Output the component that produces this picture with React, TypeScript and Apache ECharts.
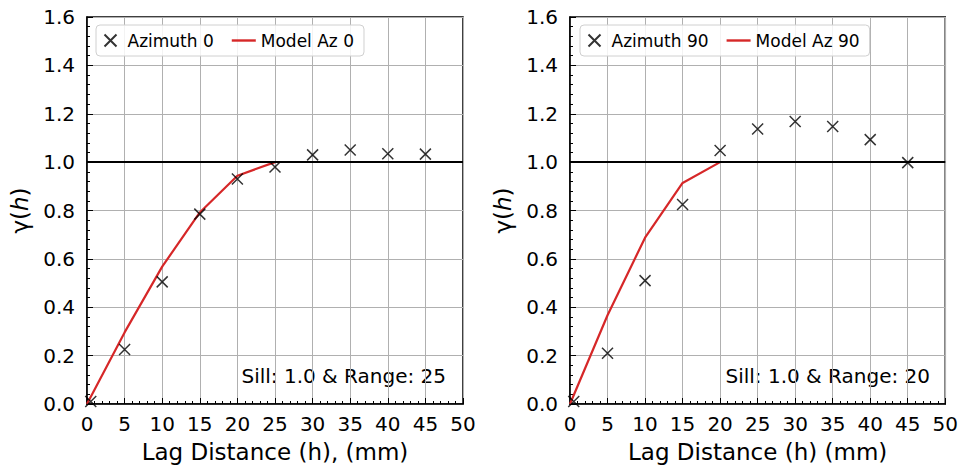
import React, { useEffect, useRef } from "react";
import * as echarts from "echarts";

const lagPointsAz0 = [0.5, 5, 10, 15, 20, 25, 30, 35, 40, 45];
const gammaAz0 = [0.01, 0.225, 0.505, 0.785, 0.93, 0.98, 1.03, 1.05, 1.035, 1.033];
const modelLagAz0 = [0, 5, 10, 15, 20, 25];
const modelGammaAz0 = [0, 0.296, 0.568, 0.792, 0.944, 1.0];

const lagPointsAz90 = [0.5, 5, 10, 15, 20, 25, 30, 35, 40, 45];
const gammaAz90 = [0.01, 0.21, 0.51, 0.825, 1.048, 1.137, 1.168, 1.147, 1.093, 0.998];
const modelLagAz90 = [0, 5, 10, 15, 20];
const modelGammaAz90 = [0, 0.367, 0.6875, 0.914, 1.0];

const xTicks = { min: 0, max: 50, interval: 5 };
const yTicks = { min: 0, max: 1.6, interval: 0.2 };
const sillLevel = 1.0;

const FONT = "DejaVu Sans";
const RED = "#d62728";
const XMARK = "path://M0,0L10,10M10,0L0,10";
const LINE_ICON = "path://M0,0H24V2.4H0Z";

const zip = (a: number[], b: number[]) => a.map((v, i) => [v, b[i]]);

function makeX(gridIndex: number, name: string) {
  return {
    type: "value",
    gridIndex,
    min: xTicks.min,
    max: xTicks.max,
    interval: xTicks.interval,
    name,
    nameLocation: "middle",
    nameGap: 36,
    nameTextStyle: { fontFamily: FONT, fontSize: 23, color: "#000" },
    axisLine: { show: true, lineStyle: { color: "#000", width: 1.5 } },
    axisTick: { show: true, inside: true, length: 6, lineStyle: { color: "#000", width: 1 } },
    minorTick: { show: true, splitNumber: 5, length: 3, lineStyle: { color: "#000", width: 1 } },
    axisLabel: { fontFamily: FONT, fontSize: 20, color: "#000", margin: 10 },
    splitLine: { show: true, lineStyle: { color: "#b0b0b0", width: 1 } },
  };
}

function makeY(gridIndex: number) {
  return {
    type: "value",
    gridIndex,
    min: yTicks.min,
    max: yTicks.max,
    interval: yTicks.interval,
    name: "γ({i|h})",
    nameLocation: "middle",
    nameGap: 56,
    nameTextStyle: {
      fontFamily: FONT,
      fontSize: 23,
      color: "#000",
      rich: { i: { fontFamily: FONT, fontSize: 23, fontStyle: "italic", color: "#000" } },
    },
    axisLine: { show: true, lineStyle: { color: "#000", width: 1.5 } },
    axisTick: { show: true, inside: true, length: 6, lineStyle: { color: "#000", width: 1 } },
    minorTick: { show: true, splitNumber: 5, length: 3, lineStyle: { color: "#000", width: 1 } },
    axisLabel: {
      fontFamily: FONT,
      fontSize: 20,
      color: "#000",
      margin: 12,
      formatter: (v: number) => v.toFixed(1),
    },
    splitLine: { show: true, lineStyle: { color: "#b0b0b0", width: 1 } },
  };
}

function scatterSeries(name: string, idx: number, xs: number[], ys: number[]) {
  return {
    type: "scatter",
    name,
    xAxisIndex: idx,
    yAxisIndex: idx,
    data: zip(xs, ys),
    symbol: XMARK,
    symbolSize: 11,
    itemStyle: { color: "none", borderColor: "#000", borderWidth: 1.5 },
    z: 5,
  };
}

function lineSeries(name: string, idx: number, xs: number[], ys: number[]) {
  return {
    type: "line",
    name,
    xAxisIndex: idx,
    yAxisIndex: idx,
    data: zip(xs, ys),
    symbol: "none",
    showSymbol: false,
    symbolKeepAspect: true,
    lineStyle: { color: RED, width: 2.2 },
    itemStyle: { color: RED },
    z: 4,
    markLine: {
      silent: true,
      symbol: "none",
      label: { show: false },
      lineStyle: { color: "#000", width: 2, type: "solid" },
      data: [{ yAxis: sillLevel }],
    },
  };
}

function makeLegend(left: number, names: string[]) {
  return {
    left,
    top: 25,
    orient: "horizontal",
    padding: [7, 10, 7, 6],
    itemGap: 18,
    itemWidth: 24,
    itemHeight: 12,
    borderColor: "#d0d0d0",
    borderWidth: 1,
    borderRadius: 4,
    backgroundColor: "rgba(255,255,255,0.85)",
    textStyle: { fontFamily: FONT, fontSize: 17, color: "#000" },
    data: [
      { name: names[0] },
      { name: names[1], icon: LINE_ICON, itemStyle: { color: RED, borderWidth: 0 } },
    ],
  };
}

export default function App() {
  const ref = useRef<HTMLDivElement>(null);
  useEffect(() => {
    if (!ref.current) return;
    const chart = echarts.init(ref.current, undefined, { renderer: "svg" });
    chart.setOption({
      animation: false,
      backgroundColor: "#fff",
      textStyle: { fontFamily: FONT },
      grid: [
        { left: 87, right: 498, top: 17, bottom: 66, show: true, borderColor: "#000", borderWidth: 1.5, backgroundColor: "transparent" },
        { left: 570, right: 14, top: 17, bottom: 66, show: true, borderColor: "#000", borderWidth: 1.5, backgroundColor: "transparent" },
      ],
      xAxis: [makeX(0, "Lag Distance (h), (mm)"), makeX(1, "Lag Distance (h) (mm)")],
      yAxis: [makeY(0), makeY(1)],
      legend: [
        makeLegend(96, ["Azimuth 0", "Model Az 0"]),
        makeLegend(580, ["Azimuth 90", "Model Az 90"]),
      ],
      graphic: [
        {
          type: "text",
          right: 961 - 446,
          top: 366,
          style: { text: "Sill: 1.0 & Range: 25", font: `20px "${FONT}"`, fill: "#000" },
        },
        {
          type: "text",
          right: 961 - 930,
          top: 366,
          style: { text: "Sill: 1.0 & Range: 20", font: `20px "${FONT}"`, fill: "#000" },
        },
      ],
      series: [
        scatterSeries("Azimuth 0", 0, lagPointsAz0, gammaAz0),
        lineSeries("Model Az 0", 0, modelLagAz0, modelGammaAz0),
        scatterSeries("Azimuth 90", 1, lagPointsAz90, gammaAz90),
        lineSeries("Model Az 90", 1, modelLagAz90, modelGammaAz90),
      ],
    });
    return () => chart.dispose();
  }, []);
  return (
    <div
      ref={ref}
      style={{ position: "fixed", left: 0, top: 0, width: 961, height: 470, background: "#fff" }}
    />
  );
}
